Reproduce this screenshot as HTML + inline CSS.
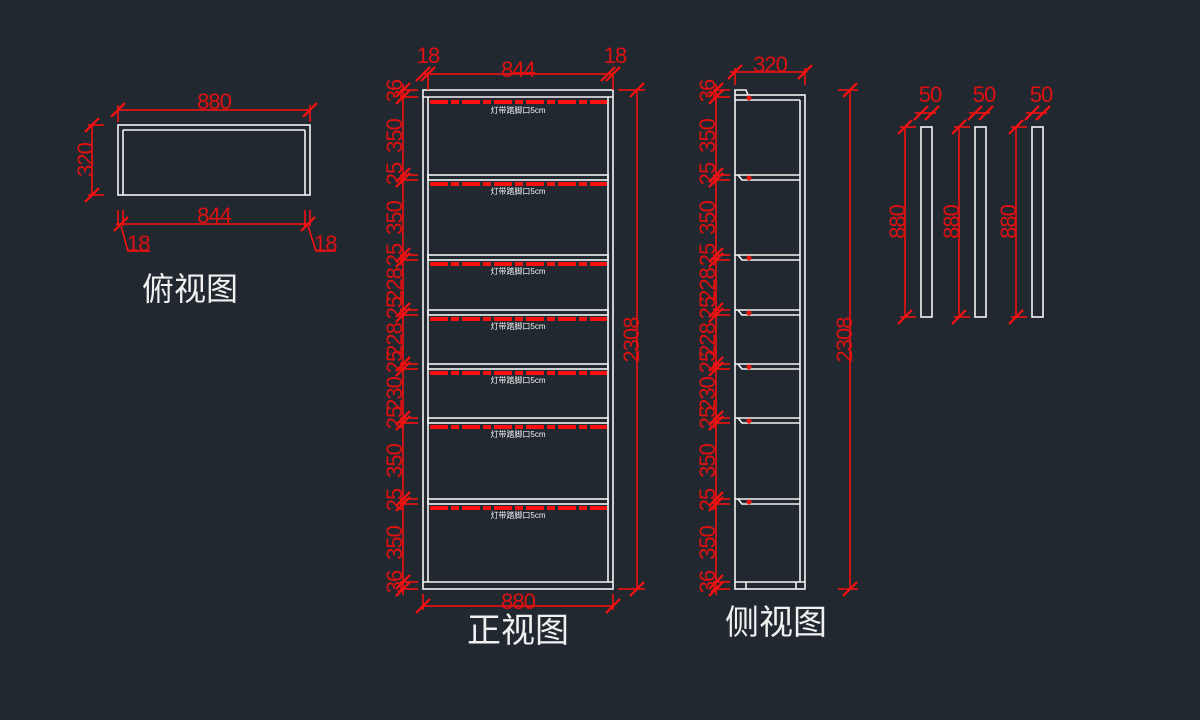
<!DOCTYPE html>
<html><head><meta charset="utf-8"><style>
html,body{margin:0;padding:0;background:#212830;}
svg{display:block}
.r{stroke:#ff1010;stroke-width:1.5;fill:none}
.w{stroke:#f4f4f4;stroke-width:1.6;fill:none}
.t{fill:#e01010;font-family:"Liberation Sans",sans-serif;font-size:22px;letter-spacing:-1px}
.c{fill:#f0f0f0;font-family:"Liberation Sans","Noto Sans CJK SC",sans-serif}
</style></head><body>
<svg width="1200" height="720" viewBox="0 0 1200 720">
<defs>
<g id="k"><line x1="-7" y1="7" x2="7" y2="-7" stroke="#ff1010" stroke-width="2.2"/></g>
</defs>

<!-- ===== TOP VIEW ===== -->
<rect class="w" x="118" y="125" width="192" height="70"/>
<line class="w" x1="123" y1="130" x2="305" y2="130"/>
<line class="w" x1="123" y1="130" x2="123" y2="195"/>
<line class="w" x1="305" y1="130" x2="305" y2="195"/>
<line class="r" x1="118" y1="110" x2="310" y2="110"/>
<line class="r" x1="118" y1="105" x2="118" y2="122"/><line class="r" x1="310" y1="105" x2="310" y2="122"/>
<use href="#k" x="118" y="110"/><use href="#k" x="310" y="110"/>
<text class="t" x="214" y="109" text-anchor="middle">880</text>
<line class="r" x1="92" y1="125" x2="92" y2="195"/>
<line class="r" x1="88" y1="125" x2="104" y2="125"/><line class="r" x1="88" y1="195" x2="104" y2="195"/>
<use href="#k" x="92" y="125"/><use href="#k" x="92" y="195"/>
<text class="t" transform="translate(93,160) rotate(-90)" text-anchor="middle">320</text>
<line class="r" x1="116" y1="224" x2="310" y2="224"/>
<line class="r" x1="118" y1="210" x2="118" y2="226"/><line class="r" x1="123" y1="210" x2="123" y2="226"/>
<line class="r" x1="305" y1="210" x2="305" y2="226"/><line class="r" x1="310" y1="210" x2="310" y2="226"/>
<use href="#k" x="121" y="224"/><use href="#k" x="308" y="224"/>
<text class="t" x="214" y="223" text-anchor="middle">844</text>
<polyline class="r" points="121,226 128,251 150,251"/>
<polyline class="r" points="308,226 316,251 336,251"/>
<text class="t" x="127" y="251">18</text><text class="t" x="314" y="251">18</text>
<text class="c" x="190" y="300" text-anchor="middle" font-size="32">俯视图</text>

<!-- ===== FRONT VIEW ===== -->
<rect class="w" x="423" y="90" width="190" height="499"/>
<line class="w" x1="428" y1="97" x2="428" y2="582"/>
<line class="w" x1="608" y1="97" x2="608" y2="582"/>
<line class="w" x1="423" y1="97" x2="613" y2="97"/>
<line class="w" x1="423" y1="582" x2="613" y2="582"/>
<g class="w">
<rect x="428" y="175" width="180" height="5"/><rect x="428" y="255" width="180" height="5"/>
<rect x="428" y="310" width="180" height="5"/><rect x="428" y="364" width="180" height="5"/>
<rect x="428" y="418" width="180" height="5"/><rect x="428" y="499" width="180" height="5"/>
</g>
<g stroke="#ff1010" stroke-width="4" stroke-dasharray="18 3 8 3">
<line x1="430" y1="102" x2="607" y2="102"/><line x1="430" y1="184" x2="607" y2="184"/>
<line x1="430" y1="264" x2="607" y2="264"/><line x1="430" y1="319" x2="607" y2="319"/>
<line x1="430" y1="373" x2="607" y2="373"/><line x1="430" y1="427" x2="607" y2="427"/>
<line x1="430" y1="508" x2="607" y2="508"/>
</g>
<g class="c" font-size="8" text-anchor="middle">
<text x="518" y="113">灯带踏脚口5cm</text><text x="518" y="194">灯带踏脚口5cm</text>
<text x="518" y="274">灯带踏脚口5cm</text><text x="518" y="329">灯带踏脚口5cm</text>
<text x="518" y="383">灯带踏脚口5cm</text><text x="518" y="437">灯带踏脚口5cm</text>
<text x="518" y="518">灯带踏脚口5cm</text>
</g>
<line class="r" x1="423" y1="74" x2="613" y2="74"/>
<line class="r" x1="428" y1="72" x2="428" y2="90"/><line class="r" x1="613" y1="72" x2="613" y2="90"/>
<use href="#k" x="423" y="74"/><use href="#k" x="428" y="74"/><use href="#k" x="608" y="74"/><use href="#k" x="613" y="74"/>
<text class="t" x="518" y="77" text-anchor="middle">844</text>
<text class="t" x="428" y="63" text-anchor="middle">18</text><text class="t" x="615" y="63" text-anchor="middle">18</text>
<line class="r" x1="423" y1="606" x2="613" y2="606"/>
<line class="r" x1="423" y1="594" x2="423" y2="610"/><line class="r" x1="613" y1="594" x2="613" y2="610"/>
<use href="#k" x="423" y="606"/><use href="#k" x="613" y="606"/>
<text class="t" x="518" y="609" text-anchor="middle">880</text>
<text class="c" x="518" y="642" text-anchor="middle" font-size="34">正视图</text>
<line class="r" x1="637" y1="90" x2="637" y2="589"/>
<line class="r" x1="618" y1="90" x2="645" y2="90"/><line class="r" x1="618" y1="589" x2="645" y2="589"/>
<use href="#k" x="637" y="90"/><use href="#k" x="637" y="589"/>
<text class="t" transform="translate(639,340) rotate(-90)" text-anchor="middle">2308</text>
<line class="r" x1="403" y1="84" x2="403" y2="595"/>
<g>
<use href="#k" x="403" y="90"/><use href="#k" x="403" y="97"/><use href="#k" x="403" y="175"/><use href="#k" x="403" y="180"/>
<use href="#k" x="403" y="255"/><use href="#k" x="403" y="260"/><use href="#k" x="403" y="310"/><use href="#k" x="403" y="315"/>
<use href="#k" x="403" y="364"/><use href="#k" x="403" y="369"/><use href="#k" x="403" y="418"/><use href="#k" x="403" y="423"/>
<use href="#k" x="403" y="499"/><use href="#k" x="403" y="504"/><use href="#k" x="403" y="582"/><use href="#k" x="403" y="589"/>
</g>
<g class="r">
<line x1="400" y1="90" x2="418" y2="90"/><line x1="400" y1="97" x2="418" y2="97"/>
<line x1="400" y1="175" x2="418" y2="175"/><line x1="400" y1="180" x2="418" y2="180"/>
<line x1="400" y1="255" x2="418" y2="255"/><line x1="400" y1="260" x2="418" y2="260"/>
<line x1="400" y1="310" x2="418" y2="310"/><line x1="400" y1="315" x2="418" y2="315"/>
<line x1="400" y1="364" x2="418" y2="364"/><line x1="400" y1="369" x2="418" y2="369"/>
<line x1="400" y1="418" x2="418" y2="418"/><line x1="400" y1="423" x2="418" y2="423"/>
<line x1="400" y1="499" x2="418" y2="499"/><line x1="400" y1="504" x2="418" y2="504"/>
<line x1="400" y1="582" x2="418" y2="582"/><line x1="400" y1="589" x2="418" y2="589"/>
</g>
<g class="t" text-anchor="middle">
<text transform="translate(402,91) rotate(-90)">36</text>
<text transform="translate(402,136) rotate(-90)">350</text>
<text transform="translate(402,174) rotate(-90)">25</text>
<text transform="translate(402,218) rotate(-90)">350</text>
<text transform="translate(402,255) rotate(-90)">25</text>
<text transform="translate(402,285) rotate(-90)">228</text>
<text transform="translate(402,308) rotate(-90)">25</text>
<text transform="translate(402,340) rotate(-90)">228</text>
<text transform="translate(402,362) rotate(-90)">25</text>
<text transform="translate(402,394) rotate(-90)">230</text>
<text transform="translate(402,418) rotate(-90)">25</text>
<text transform="translate(402,461) rotate(-90)">350</text>
<text transform="translate(402,500) rotate(-90)">25</text>
<text transform="translate(402,543) rotate(-90)">350</text>
<text transform="translate(402,582) rotate(-90)">36</text>
</g>

<!-- ===== SIDE VIEW ===== -->
<rect class="w" x="735" y="95" width="70" height="494"/>
<polyline class="w" points="735,95 735,90 746,90 748,95"/>
<line class="w" x1="800" y1="100" x2="800" y2="582"/>
<line class="w" x1="735" y1="100" x2="800" y2="100"/>
<line class="w" x1="735" y1="582" x2="805" y2="582"/>
<line class="w" x1="746" y1="582" x2="746" y2="589"/><line class="w" x1="796" y1="582" x2="796" y2="589"/>
<g class="w">
<line x1="735" y1="175" x2="800" y2="175"/><polyline points="738,175 742,180 800,180"/>
<line x1="735" y1="255" x2="800" y2="255"/><polyline points="738,255 742,260 800,260"/>
<line x1="735" y1="310" x2="800" y2="310"/><polyline points="738,310 742,315 800,315"/>
<line x1="735" y1="364" x2="800" y2="364"/><polyline points="738,364 742,369 800,369"/>
<line x1="735" y1="418" x2="800" y2="418"/><polyline points="738,418 742,423 800,423"/>
<line x1="735" y1="499" x2="800" y2="499"/><polyline points="738,499 742,504 800,504"/>
</g>
<g fill="#ff1010">
<circle cx="749" cy="98" r="2.5"/><circle cx="749" cy="178" r="2.5"/><circle cx="749" cy="258" r="2.5"/>
<circle cx="749" cy="313" r="2.5"/><circle cx="749" cy="367" r="2.5"/><circle cx="749" cy="421" r="2.5"/><circle cx="749" cy="502" r="2.5"/>
</g>
<line class="r" x1="730" y1="72" x2="807" y2="72"/>
<line class="r" x1="735" y1="68" x2="735" y2="85"/><line class="r" x1="805" y1="68" x2="805" y2="85"/>
<use href="#k" x="735" y="72"/><use href="#k" x="805" y="72"/>
<text class="t" x="770" y="72" text-anchor="middle">320</text>
<line class="r" x1="850" y1="90" x2="850" y2="589"/>
<line class="r" x1="838" y1="90" x2="858" y2="90"/><line class="r" x1="838" y1="589" x2="858" y2="589"/>
<use href="#k" x="850" y="90"/><use href="#k" x="850" y="589"/>
<text class="t" transform="translate(852,340) rotate(-90)" text-anchor="middle">2308</text>
<line class="r" x1="716" y1="84" x2="716" y2="595"/>
<g>
<use href="#k" x="716" y="90"/><use href="#k" x="716" y="97"/><use href="#k" x="716" y="175"/><use href="#k" x="716" y="180"/>
<use href="#k" x="716" y="255"/><use href="#k" x="716" y="260"/><use href="#k" x="716" y="310"/><use href="#k" x="716" y="315"/>
<use href="#k" x="716" y="364"/><use href="#k" x="716" y="369"/><use href="#k" x="716" y="418"/><use href="#k" x="716" y="423"/>
<use href="#k" x="716" y="499"/><use href="#k" x="716" y="504"/><use href="#k" x="716" y="582"/><use href="#k" x="716" y="589"/>
</g>
<g class="r">
<line x1="713" y1="90" x2="730" y2="90"/><line x1="713" y1="97" x2="730" y2="97"/>
<line x1="713" y1="175" x2="730" y2="175"/><line x1="713" y1="180" x2="730" y2="180"/>
<line x1="713" y1="255" x2="730" y2="255"/><line x1="713" y1="260" x2="730" y2="260"/>
<line x1="713" y1="310" x2="730" y2="310"/><line x1="713" y1="315" x2="730" y2="315"/>
<line x1="713" y1="364" x2="730" y2="364"/><line x1="713" y1="369" x2="730" y2="369"/>
<line x1="713" y1="418" x2="730" y2="418"/><line x1="713" y1="423" x2="730" y2="423"/>
<line x1="713" y1="499" x2="730" y2="499"/><line x1="713" y1="504" x2="730" y2="504"/>
<line x1="713" y1="582" x2="730" y2="582"/><line x1="713" y1="589" x2="730" y2="589"/>
</g>
<g class="t" text-anchor="middle">
<text transform="translate(715,91) rotate(-90)">36</text>
<text transform="translate(715,136) rotate(-90)">350</text>
<text transform="translate(715,174) rotate(-90)">25</text>
<text transform="translate(715,218) rotate(-90)">350</text>
<text transform="translate(715,255) rotate(-90)">25</text>
<text transform="translate(715,285) rotate(-90)">228</text>
<text transform="translate(715,308) rotate(-90)">25</text>
<text transform="translate(715,340) rotate(-90)">228</text>
<text transform="translate(715,362) rotate(-90)">25</text>
<text transform="translate(715,394) rotate(-90)">230</text>
<text transform="translate(715,418) rotate(-90)">25</text>
<text transform="translate(715,461) rotate(-90)">350</text>
<text transform="translate(715,500) rotate(-90)">25</text>
<text transform="translate(715,543) rotate(-90)">350</text>
<text transform="translate(715,582) rotate(-90)">36</text>
</g>
<text class="c" x="776" y="634" text-anchor="middle" font-size="34">侧视图</text>

<!-- ===== PANELS ===== -->
<g class="w">
<rect x="921" y="127" width="11" height="190"/>
<rect x="975" y="127" width="11" height="190"/>
<rect x="1032" y="127" width="11" height="190"/>
</g>
<g class="r">
<line x1="905" y1="127" x2="905" y2="317"/><line x1="900" y1="127" x2="916" y2="127"/><line x1="900" y1="317" x2="916" y2="317"/>
<line x1="959" y1="127" x2="959" y2="317"/><line x1="954" y1="127" x2="970" y2="127"/><line x1="954" y1="317" x2="970" y2="317"/>
<line x1="1016" y1="127" x2="1016" y2="317"/><line x1="1011" y1="127" x2="1027" y2="127"/><line x1="1011" y1="317" x2="1027" y2="317"/>
<line x1="915" y1="113" x2="936" y2="113"/><line x1="969" y1="113" x2="990" y2="113"/><line x1="1026" y1="113" x2="1047" y2="113"/>
</g>
<use href="#k" x="905" y="127"/><use href="#k" x="905" y="317"/>
<use href="#k" x="959" y="127"/><use href="#k" x="959" y="317"/>
<use href="#k" x="1016" y="127"/><use href="#k" x="1016" y="317"/>
<use href="#k" x="921" y="113"/><use href="#k" x="932" y="113"/>
<use href="#k" x="975" y="113"/><use href="#k" x="986" y="113"/>
<use href="#k" x="1032" y="113"/><use href="#k" x="1043" y="113"/>
<g class="t" text-anchor="middle">
<text x="930" y="102">50</text><text x="984" y="102">50</text><text x="1041" y="102">50</text>
<text transform="translate(905,222) rotate(-90)">880</text>
<text transform="translate(959,222) rotate(-90)">880</text>
<text transform="translate(1016,222) rotate(-90)">880</text>
</g>
</svg>
</body></html>
